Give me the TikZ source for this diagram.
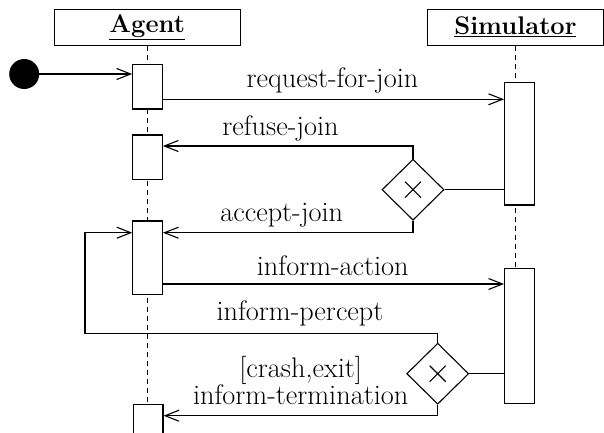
\documentclass[tikz,border=0pt]{standalone}
\usepackage{fontspec}
\usetikzlibrary{arrows.meta,shapes.geometric,backgrounds}
\begin{document}
\begin{tikzpicture}[x=1pt,y=-1pt,
  every node/.style={font=\fontsize{28.3}{34}\selectfont},
  ln/.style={line width=1.1pt},
  hdr/.style={draw,line width=1.1pt,minimum height=36pt,inner sep=0pt,font=\fontsize{25.5}{30}\selectfont},
  act/.style={draw,fill=white,line width=1.1pt,minimum width=29.6pt,inner sep=0pt},
  gate/.style={draw,diamond,aspect=1,fill=white,line width=1.1pt,minimum width=62pt,minimum height=61pt,inner sep=0pt,
    path picture={\draw[line width=1.1pt] (path picture bounding box.center) +(-8pt,-8pt) -- +(8pt,8pt)
      (path picture bounding box.center) +(-8pt,8pt) -- +(8pt,-8pt);}},
  life/.style={line width=0.9pt,dash pattern=on 5pt off 4pt},
  msg/.style={line width=1.1pt,-{Straight Barb[length=14pt,width=11pt]}},
  lbl/.style={anchor=base,inner sep=0pt}]
\clip (0,0) rectangle (604,432);
% headers
\node[hdr,minimum width=186pt] (agent) at (147.2,27.2) {\underline{\textbf{Agent}}};
\node[hdr,minimum width=176.4pt] (sim) at (515.4,27.2) {\underline{\textbf{Simulator}}};
% activations
\node[act,minimum height=44.7pt] (A1) at (147.5,86.65) {};
\node[act,minimum height=44.3pt] (A2) at (147.5,157.15) {};
\node[act,minimum height=73.3pt] (A3) at (147.6,257.65) {};
\node[act,minimum height=60pt] (A4) at (148.2,434.5) {};
\node[act,minimum height=122.7pt] (S1) at (519.35,143.65) {};
\node[act,minimum height=135pt] (S2) at (519.35,335.8) {};
% lifelines
\begin{scope}[on background layer]
\draw[life] (agent.south) -- (agent.south |- A4.north);
\draw[life] (sim.south) -- (sim.south |- S2.north);
\end{scope}
% decisions
\node[gate] (D1) at (413,189.7) {};
\node[gate] (D2) at (437.7,373.7) {};
% start
\node[circle,fill=black,minimum size=30pt,inner sep=0pt] (init) at (24.2,74) {};
% levels
\coordinate (yreq) at (0,99.3);
\coordinate (yref) at (0,146);
\coordinate (yacc) at (0,232.7);
\coordinate (yact) at (0,284);
\coordinate (yper) at (0,333.3);
\coordinate (yter) at (0,415.7);
\coordinate (xloop) at (85,0);
% messages
\draw[msg] (init) -- (init -| A1.west);
\draw[msg] (A1.east |- yreq) -- (S1.west |- yreq);
\draw[msg] (D1.north) |- (A2.east |- yref);
\draw[ln] (D1.east) -- (D1.east -| S1.west);
\draw[msg] (D1.south) |- (A3.east |- yacc);
\draw[msg] (A3.east |- yact) -- (S2.west |- yact);
\draw[ln] (D2.east) -- (D2.east -| S2.west);
\draw[msg] (D2.north) |- (xloop |- yper) |- (A3.west |- yacc);
\draw[msg] (D2.south) |- (A4.east |- yter);
% labels
\node[lbl] (lreq) at (332.5,87.3) {request-for-join};
\node[lbl] (lref) at (280.5,135) {refuse-join};
\node[lbl] (lacc) at (281.7,221.7) {accept-join};
\node[lbl] (lact) at (332.8,275) {inform-action};
\node[lbl] (lper) at (300,320.7) {inform-percept};
\node[lbl] (lter) at (300.7,404.3) {\fontsize{28.3}{21}\selectfont\begin{tabular}[b]{@{}c@{}}[crash,exit]\\inform-termination\end{tabular}};
\end{tikzpicture}
\end{document}
